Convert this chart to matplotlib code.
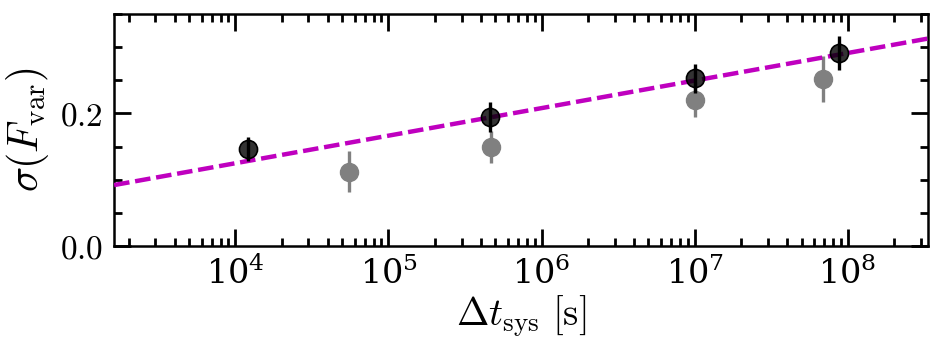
import numpy as np
import matplotlib
matplotlib.use('Agg')
import matplotlib.pyplot as plt
from matplotlib.ticker import MultipleLocator, FormatStrFormatter, LogLocator

# data
t_black = [1.21e4, 4.6e5, 1.0e7, 8.8e7]
f_black = [0.146, 0.195, 0.253, 0.291]
e_black = [0.018, 0.023, 0.022, 0.026]

t_gray = [5.5e4, 4.7e5, 1.0e7, 6.9e7]
f_gray = [0.112, 0.149, 0.221, 0.252]
e_gray = [0.031, 0.024, 0.026, 0.034]

# fit line end points
t_fit = [1.61e3, 3.35e8]
f_fit = [0.092, 0.313]

plt.rcParams['mathtext.fontset'] = 'cm'
plt.rcParams['font.family'] = 'serif'
plt.rcParams['font.serif'] = ['DejaVu Serif']

fig = plt.figure(figsize=(9.43, 3.51), dpi=100)
ax = fig.add_axes([0.121, 0.299, 0.863, 0.661])

ax.errorbar(t_gray, f_gray, yerr=e_gray, fmt='o', color='gray', ms=13,
            elinewidth=2.4, capsize=0, zorder=2)
ax.plot(t_fit, f_fit, color='m', lw=3.2, dashes=(3.5, 1.3), zorder=3)
ax.errorbar(t_black, f_black, yerr=e_black, fmt='o', color='k', ms=13,
            mfc=(0, 0, 0, 0.8), mec='k', mew=1.2, elinewidth=2.4, capsize=0, zorder=4)

ax.set_xscale('log')
ax.set_xlim(1.61e3, 3.35e8)
ax.set_ylim(0, 0.35)

ax.yaxis.set_major_locator(MultipleLocator(0.2))
ax.yaxis.set_minor_locator(MultipleLocator(0.05))
ax.yaxis.set_major_formatter(FormatStrFormatter('$%.1f$'))
ax.xaxis.set_major_locator(LogLocator(base=10, numticks=20))
ax.xaxis.set_minor_locator(LogLocator(base=10, subs=np.arange(2, 10), numticks=20))

ax.tick_params(which='both', direction='in', top=True, right=True, width=2.0)
ax.tick_params(which='major', length=12, labelsize=24, pad=8)
ax.tick_params(which='minor', length=6)
for s in ax.spines.values():
    s.set_linewidth(1.8)

ax.set_xlabel(r'$\Delta t_{\rm sys}\ [{\rm s}]$', fontsize=28, labelpad=2)
ax.set_ylabel(r'$\sigma(F_{\rm var})$', fontsize=30, labelpad=6)

fig.savefig('out.png', dpi=100)
